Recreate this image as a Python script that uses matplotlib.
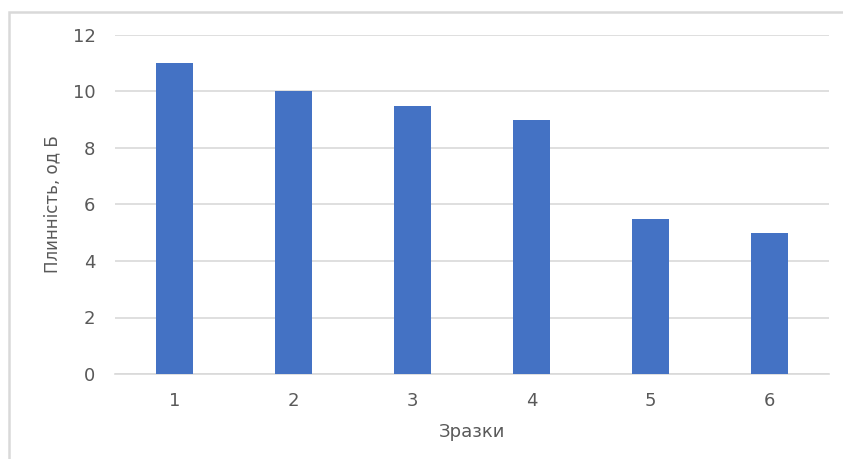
import matplotlib
matplotlib.use("Agg")
import matplotlib.pyplot as plt
from matplotlib.patches import Rectangle

# Зразки та плинність
samples = ["1", "2", "3", "4", "5", "6"]
fluidity = [11, 10, 9.5, 9, 5.5, 5]
y_ticks = [0, 2, 4, 6, 8, 10, 12]

plt.rcParams["font.family"] = ["DejaVu Sans"]
text_color = "#595959"
grid_color = "#d9d9d9"

fig = plt.figure(figsize=(8.43, 4.59), dpi=100)
ax = fig.add_axes([115 / 843, 1 - 374 / 459, 714 / 843, 339 / 459])

x = range(len(samples))
ax.bar(x, fluidity, width=0.31, color="#4472c4", zorder=3)

ax.set_xlim(-0.5, len(samples) - 0.5)
ax.set_ylim(0, 12)
ax.set_yticks(y_ticks)
ax.set_xticks(list(x))
ax.set_xticklabels(samples)

ax.yaxis.grid(True, color=grid_color, linewidth=1.2, zorder=0)
for side in ["top", "right", "left"]:
    ax.spines[side].set_visible(False)
ax.spines["bottom"].set_color(grid_color)
ax.spines["bottom"].set_linewidth(1.2)
ax.tick_params(length=0, colors=text_color, labelsize=13)
ax.tick_params(axis="y", pad=14)
ax.tick_params(axis="x", pad=13)

ax.set_xlabel("Зразки", color=text_color, fontsize=13, labelpad=9)
ax.set_ylabel("Плинність, од Б", color=text_color, fontsize=12, labelpad=8)

# рамка діаграми
fig.patches.append(Rectangle((9 / 843, -0.1), 1.2, 0.1 + 1 - 12 / 459,
                             transform=fig.transFigure, fill=False,
                             edgecolor=grid_color, linewidth=1.8))

fig.savefig("out.png", dpi=100)
